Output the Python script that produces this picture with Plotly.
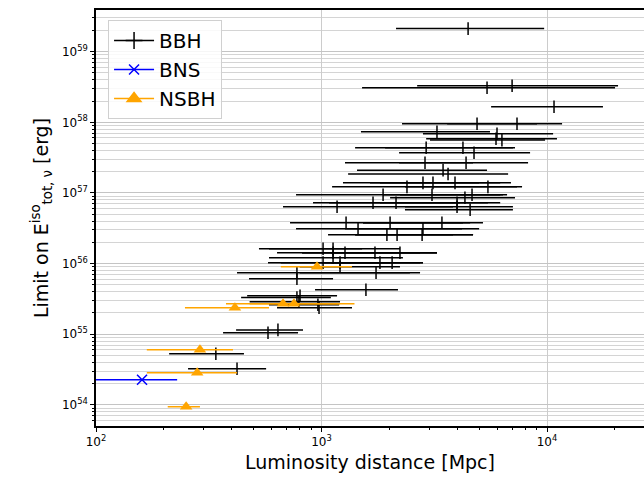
import plotly.graph_objects as go

# ---------------- data ----------------
# BBH: luminosity distance [Mpc] (central, lower, upper) and energy limit [erg]
bbh_d = [4467, 5420, 7000, 10740, 4894, 7360, 3251, 6000, 5940, 6310,
         2911, 4238, 4745, 2877, 4375, 3459, 3640, 2818, 3121, 3908,
         2393, 5470, 1875, 3090, 4650, 4325, 1692, 2140, 3990, 1172,
         3990, 4560, 1285, 2014, 3420, 1452, 2818, 1950, 2163, 2793,
         1016, 1125, 1125, 1271, 1726, 2228, 1125, 1016, 1208, 1816,
         2056, 1208, 778, 1745, 778, 1574, 803, 778, 794, 975,
         964, 641, 579, 340, 422]
bbh_lo = [2140, 1513, 2655, 5650, 2275, 3606, 1496, 2818, 2911, 3027,
          1409, 1914, 2208, 1271, 2208, 1437, 1312, 1245, 1641, 1816,
          1114, 2344, 771, 1875, 2228, 2014, 917, 1080, 1816, 675,
          2344, 2344, 725, 1528, 1528, 771, 1271, 1069, 1409, 1409,
          528, 585, 635, 820, 820, 1100, 585, 579, 660, 1000,
          1100, 800, 422, 800, 477, 936, 468, 440, 480, 635,
          585, 418, 366, 211, 256]
bbh_hi = [9710, 20030, 20650, 17700, 9030, 11660, 5585, 10640, 11070, 9800,
          7210, 7060, 8410, 4699, 8240, 5420, 6720, 6920, 5000, 6200,
          7750, 7360, 6380, 6650, 6200, 7210, 5470, 4100, 6200, 3831,
          7060, 7060, 5200, 4238, 4560, 4198, 5000, 3831, 4699, 4699,
          1513, 2228, 2735, 3251, 3251, 3251, 2296, 2014, 2818, 2818,
          2735, 2228, 2466, 2735, 1125, 2183, 1172, 1100, 1208, 1365,
          1197, 828, 787, 453, 568]
bbh_e = [2.12e59, 3.09e58, 3.30e58, 1.66e58, 9.55e57, 9.55e57, 7.36e57, 6.90e57, 5.86e57, 5.60e57,
         4.37e57, 4.37e57, 3.71e57, 2.68e57, 2.68e57, 2.10e57, 1.85e57, 1.39e57, 1.39e57, 1.39e57,
         1.22e57, 1.22e57, 9.44e56, 9.44e56, 9.44e56, 8.55e56, 7.26e56, 7.26e56, 7.26e56, 6.38e56,
         6.38e56, 5.78e56, 3.78e56, 3.78e56, 3.78e56, 3.11e56, 3.11e56, 2.56e56, 2.56e56, 2.56e56,
         1.62e56, 1.62e56, 1.42e56, 1.42e56, 1.42e56, 1.42e56, 1.21e56, 1.03e56, 1.03e56, 1.03e56,
         1.03e56, 9.0e55, 7.41e55, 7.41e55, 6.09e55, 4.26e55, 3.50e55, 3.30e55, 2.88e55, 2.37e55,
         2.61e55, 1.15e55, 1.05e55, 5.28e54, 3.24e54]

# BNS
bns_d = [160]
bns_lo = [90]
bns_hi = [229]
bns_e = [2.26e54]

# NSBH
nsbh_d = [955, 675, 755, 413, 289, 281, 251]
nsbh_lo = [660, 377, 480, 248, 168, 168, 208]
nsbh_hi = [1365, 1208, 1400, 585, 405, 422, 289]
nsbh_e = [9.0e55, 2.70e55, 2.70e55, 2.37e55, 6.0e54, 2.84e54, 9.4e53]

x_major = [100.0, 1000.0, 10000.0]
x_major_text = ["10<sup>2</sup>", "10<sup>3</sup>", "10<sup>4</sup>"]
y_major = [1e54, 1e55, 1e56, 1e57, 1e58, 1e59]
y_major_text = ["10<sup>%d</sup>" % p for p in range(54, 60)]

# ---------------- figure ----------------
FONT = "DejaVu Sans"
BLACK = "#000000"
BLUE = "#0000ff"
ORANGE = "#ffa500"


def err(c, lo, hi):
    return dict(type="data", symmetric=False,
                array=[h - v for v, h in zip(c, hi)],
                arrayminus=[v - l for v, l in zip(c, lo)])


fig = go.Figure()

e = err(bbh_d, bbh_lo, bbh_hi)
e.update(color=BLACK, thickness=1.5, width=0)
fig.add_trace(go.Scatter(
    x=bbh_d, y=bbh_e, mode="markers", showlegend=False, error_x=e,
    marker=dict(symbol="line-ns-open", size=9, color=BLACK,
                line=dict(color=BLACK, width=1.5))))

e = err(nsbh_d, nsbh_lo, nsbh_hi)
e.update(color=ORANGE, thickness=1.5, width=0)
fig.add_trace(go.Scatter(
    x=nsbh_d, y=nsbh_e, mode="markers", showlegend=False, error_x=e,
    marker=dict(symbol="triangle-up", size=11, color=ORANGE,
                line=dict(width=0))))

e = err(bns_d, bns_lo, bns_hi)
e.update(color=BLUE, thickness=1.5, width=0)
fig.add_trace(go.Scatter(
    x=bns_d, y=bns_e, mode="markers", showlegend=False, error_x=e,
    marker=dict(symbol="x-thin-open", size=10, color=BLUE,
                line=dict(color=BLUE, width=1.5))))

# legend entries (line + marker like matplotlib errorbar legend)
for name, sym, col, size in [("BBH", "cross-thin-open", BLACK, 12),
                             ("BNS", "x-thin-open", BLUE, 10),
                             ("NSBH", "triangle-up", ORANGE, 12)]:
    fig.add_trace(go.Scatter(
        x=[None], y=[None], mode="lines+markers", name=name,
        line=dict(color=col, width=1.5),
        marker=dict(symbol=sym, size=size, color=col,
                    line=dict(color=col, width=1.5))))

minor_x = [m * 10.0 ** p for p in range(2, 5) for m in range(2, 10)]
minor_y = [m * 10.0 ** p for p in range(53, 60) for m in range(2, 10)]

fig.update_layout(
    width=644, height=482,
    margin=dict(l=96, r=0, t=10, b=56),
    paper_bgcolor="white", plot_bgcolor="white",
    font=dict(family=FONT, size=12, color="black"),
    legend=dict(x=0.022, y=0.976, xanchor="left", yanchor="top",
                bgcolor="rgba(255,255,255,0.85)", bordercolor="#d0d0d0",
                borderwidth=1, font=dict(size=20, family=FONT),
                itemwidth=40, tracegroupgap=2),
    xaxis=dict(type="log", range=[2, 4.43],
               tickmode="array", tickvals=x_major, ticktext=x_major_text,
               ticks="outside", ticklen=4, tickwidth=1, tickcolor="black",
               showgrid=True, gridcolor="#cccccc", gridwidth=1,
               showline=True, linecolor="black", linewidth=1.5, mirror=True,
               minor=dict(tickmode="array", tickvals=minor_x, ticks="outside",
                          ticklen=2, tickcolor="black", showgrid=False),
               title=dict(text="Luminosity distance [Mpc]",
                          font=dict(size=19, family=FONT), standoff=8),
               tickfont=dict(size=12), zeroline=False),
    yaxis=dict(type="log", range=[53.70, 59.59],
               tickmode="array", tickvals=y_major, ticktext=y_major_text,
               ticks="outside", ticklen=4, tickwidth=1, tickcolor="black",
               showgrid=True, gridcolor="#c4c4c4", gridwidth=1,
               showline=True, linecolor="black", linewidth=1.5, mirror=False,
               minor=dict(tickmode="array", tickvals=minor_y, ticks="outside",
                          ticklen=2, tickcolor="black", showgrid=True,
                          gridcolor="#d4d4d4", gridwidth=1),
               title=dict(text="Limit on E<sup>iso</sup><sub>tot, ν</sub> [erg]",
                          font=dict(size=19, family=FONT), standoff=8),
               tickfont=dict(size=12), zeroline=False),
)

fig.write_html("out.html")
